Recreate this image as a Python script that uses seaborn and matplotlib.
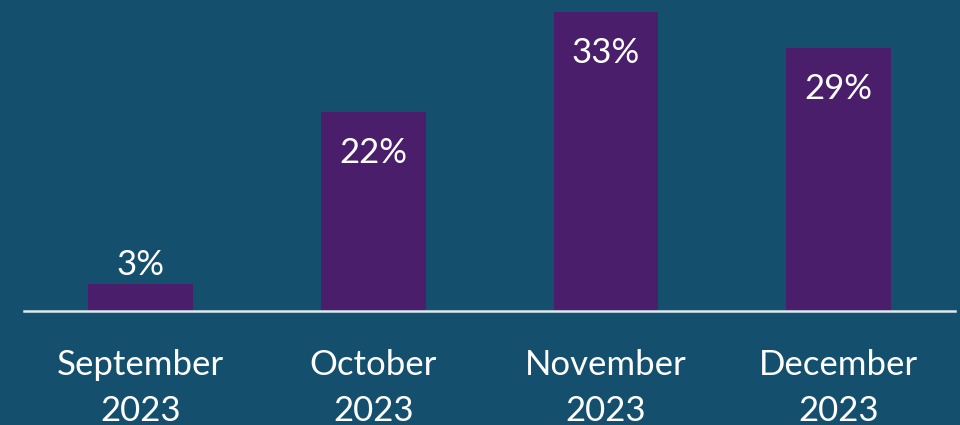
import matplotlib
matplotlib.use("Agg")
import matplotlib.pyplot as plt
import seaborn as sns
import pandas as pd

categories = ["September\n2023", "October\n2023", "November\n2023", "December\n2023"]
values = [3, 22, 33, 29]
labels = ["3%", "22%", "33%", "29%"]

BG = "#154F6E"
BAR = "#4A1E6B"

sns.set_theme(style="white")
plt.rcParams["font.family"] = ["Lato", "DejaVu Sans"]

df = pd.DataFrame({"month": categories, "value": values})

fig = plt.figure(figsize=(9.6, 4.25), dpi=100, facecolor=BG)
ax = fig.add_axes([0.025, 0.268, 0.97, 0.725])
ax.set_facecolor(BG)
sns.barplot(data=df, x="month", y="value", color=BAR, saturation=1, width=0.451,
            linewidth=0, edgecolor="none", ax=ax)
ax.set_xlim(-0.5, 3.5)
ax.set_ylim(0, 34)
for s in ["top", "right", "left"]:
    ax.spines[s].set_visible(False)
ax.spines["bottom"].set_color("#DCEBF0")
ax.spines["bottom"].set_linewidth(1.8)
ax.set_yticks([])
ax.set_xlabel("")
ax.set_ylabel("")
ax.tick_params(axis="x", length=0, pad=27, labelsize=25, labelcolor="white")
for lab in ax.get_xticklabels():
    lab.set_linespacing(1.55)

for i, (v, t) in enumerate(zip(values, labels)):
    if v < 8:
        ax.text(i, v + 0.3, t, ha="center", va="bottom", color="white", fontsize=25)
    else:
        ax.text(i, v - 4.5, t, ha="center", va="center", color="white", fontsize=25)

fig.savefig("out.png", dpi=100, facecolor=BG)
